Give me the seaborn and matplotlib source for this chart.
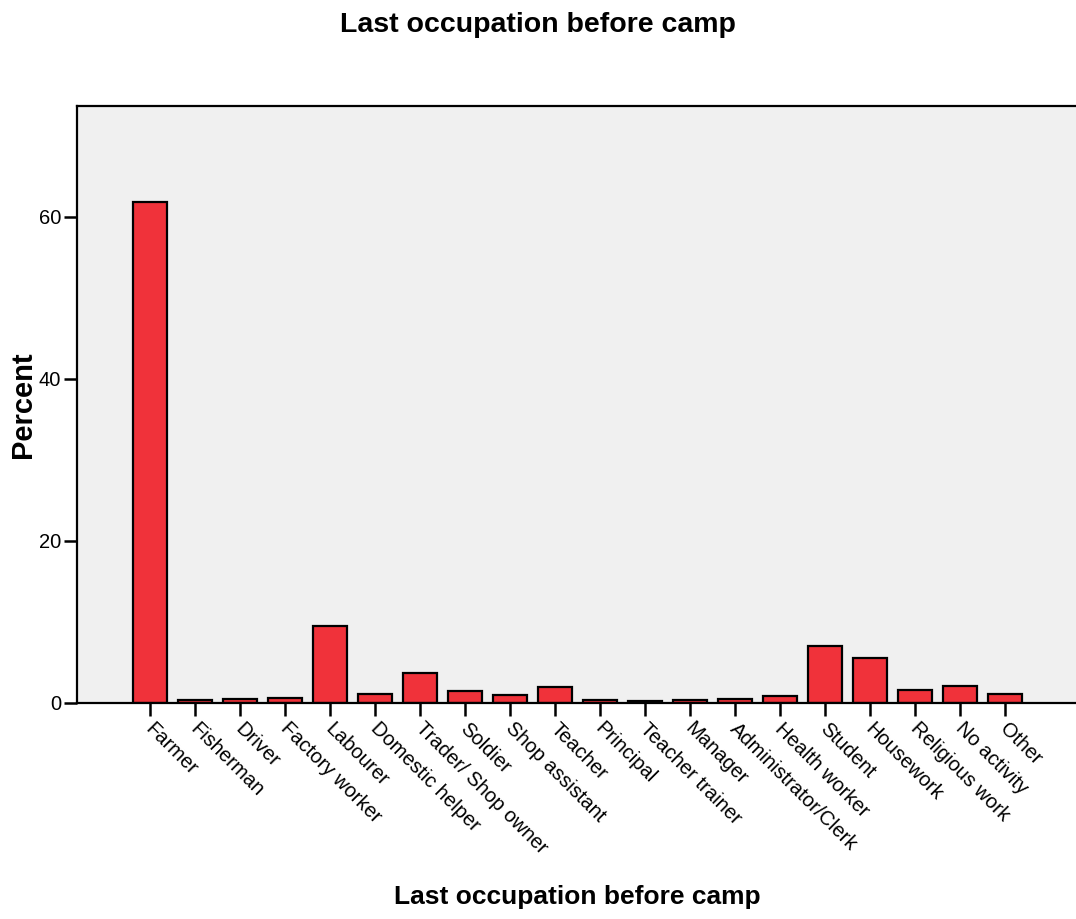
import matplotlib
matplotlib.use('Agg')
import matplotlib.pyplot as plt
import matplotlib.transforms as mtransforms
import seaborn as sns
import pandas as pd

# data
occupations = ['Farmer', 'Fisherman', 'Driver', 'Factory worker', 'Labourer',
               'Domestic helper', 'Trader/ Shop owner', 'Soldier', 'Shop assistant',
               'Teacher', 'Principal', 'Teacher trainer', 'Manager',
               'Administrator/Clerk', 'Health worker', 'Student', 'Housework',
               'Religious work', 'No activity', 'Other']
percent = [61.85, 0.37, 0.49, 0.58, 9.54, 1.07, 3.67, 1.48, 0.99, 1.98,
           0.40, 0.28, 0.37, 0.49, 0.86, 7.07, 5.59, 1.60, 2.06, 1.15]

df = pd.DataFrame({'occupation': occupations, 'percent': percent})

sns.set_style('white')
plt.rcParams['font.family'] = ['Liberation Sans', 'DejaVu Sans']
plt.rcParams['text.color'] = 'black'
plt.rcParams['axes.labelcolor'] = 'black'
plt.rcParams['xtick.color'] = 'black'
plt.rcParams['ytick.color'] = 'black'

fig = plt.figure(figsize=(10.76, 9.19), dpi=100)
ax = fig.add_axes([77 / 1076, 1 - 703 / 919, 1001 / 1076, 597 / 919])

sns.barplot(data=df, x='occupation', y='percent', color='#f0323a', width=0.75,
            edgecolor='black', linewidth=1.6, saturation=1, ax=ax)

ax.set_facecolor('#f0f0f0')
ax.set_xlim(-1.62, 20.62)
ax.set_ylim(0, 73.7)
ax.set_yticks([0, 20, 40, 60])
for side in ['left', 'top', 'bottom']:
    ax.spines[side].set_color('black')
    ax.spines[side].set_linewidth(1.6)
ax.spines['right'].set_visible(False)

ax.tick_params(axis='both', direction='out', length=9.5, width=1.8, color='black',
               labelsize=14.5, pad=2, bottom=True, left=True)
ax.set_xticks(range(len(occupations)))
ax.set_xticklabels(occupations, rotation=-45, ha='left', va='top',
                   rotation_mode='anchor')
# nudge the slanted labels so they start right at the tick end
shift = mtransforms.ScaledTranslation(5 / 100, 0, fig.dpi_scale_trans)
for lab in ax.get_xticklabels():
    lab.set_transform(lab.get_transform() + shift)

ax.set_xlabel('Last occupation before camp', fontsize=19, fontweight='bold')
ax.set_ylabel('Percent', fontsize=21, fontweight='bold', labelpad=1.5)
ax.xaxis.set_label_coords(0.5, -0.305)
fig.text(0.5, 1 - 25 / 919, 'Last occupation before camp', ha='center', va='center',
         fontsize=20.5, fontweight='bold')

fig.savefig('out.png', dpi=100)
